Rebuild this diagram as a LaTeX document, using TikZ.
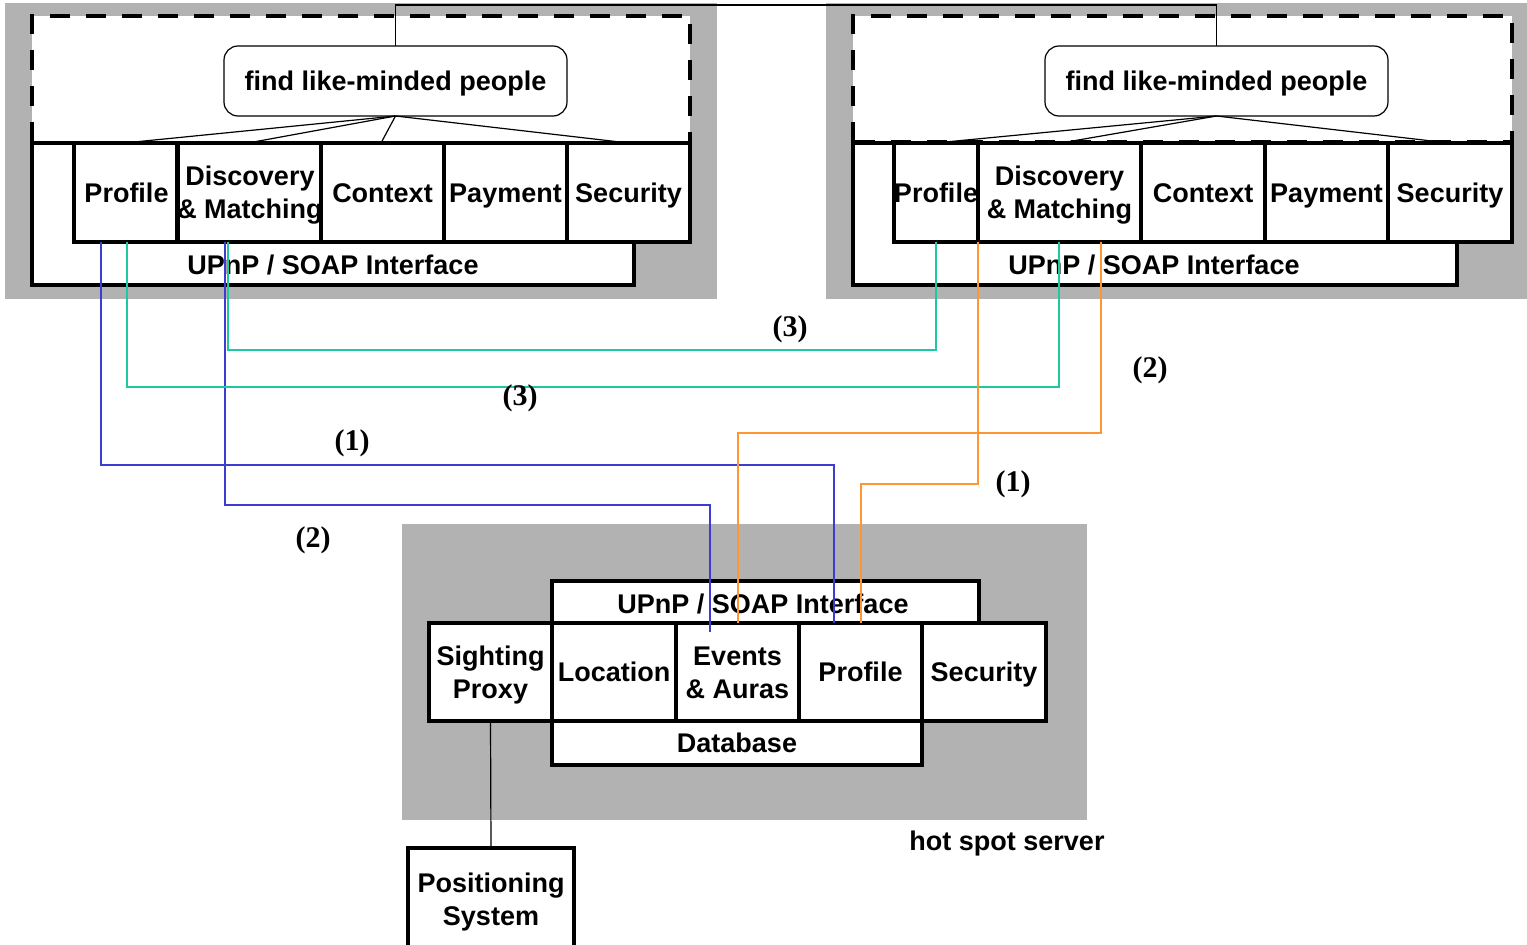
\documentclass[tikz,border=0pt]{standalone}
\usepackage{fontspec}
\setmainfont{Liberation Sans}
\newfontfamily\labfont{Liberation Serif}
\definecolor{panelgray}{RGB}{178,178,178}
\definecolor{cblue}{RGB}{60,60,210}
\definecolor{cgreen}{RGB}{30,200,160}
\definecolor{corange}{RGB}{255,150,50}
\begin{document}
\begin{tikzpicture}[x=1pt,y=-1pt,
  txt/.style={font=\fontsize{27}{33}\selectfont\bfseries, inner sep=0pt, align=center, text height=19.5pt, text depth=0pt},
  twoline/.style={text height=52.5pt},
  modbox/.style={txt, draw, fill=white, line width=4.5pt, outer sep=0pt, minimum height=99pt},
  frame/.style={draw, fill=white, line width=4.5pt, outer sep=0pt, inner sep=0pt},
  dashframe/.style={draw, line width=4.5pt, dash pattern=on 20pt off 16pt, outer sep=0pt, inner sep=0pt},
  goalbox/.style={txt, draw, fill=white, line width=1.2pt, rounded corners=14pt, minimum width=343pt, minimum height=70pt, outer sep=0pt},
  thin/.style={line width=1.2pt},
  conn/.style={line width=1.6pt},
  lab/.style={font=\fontsize{30}{30}\selectfont\labfont\bfseries, inner sep=0pt}
]
\useasboundingbox (0,0) rectangle (1527,945);

% gray panels
\fill[panelgray] (5,3) rectangle (717,299);
\fill[panelgray] (826,3) rectangle (1527,299);
\fill[panelgray] (402,524) rectangle (1087,820);

% ---------- left client ----------
\fill[white] (32,16) rectangle (690,142);
\draw[dashframe] (32,142) -- (32,16) -- (690,16) -- (690,142);
\node[goalbox] (lgoal) at (395.5,81) {find like-minded people};
\node[frame, minimum width=602pt, minimum height=142pt] (lupnp) at (333,214) {};
\node[txt] (lupnptxt) at (333,265) {UPnP / SOAP Interface};
\node[modbox, minimum width=105pt] (lprof) at (126.5,192.5) {Profile};
\node[modbox, twoline, minimum width=142pt] (ldisc) at (250,192.5) {Discovery\\\& Matching};
\node[modbox, minimum width=123pt] (lctx) at (382.5,192.5) {Context};
\node[modbox, minimum width=123pt] (lpay) at (505.5,192.5) {Payment};
\node[modbox, minimum width=123pt] (lsec) at (628.5,192.5) {Security};
\draw[thin] (lgoal.south) -- ([xshift=-2.5]lprof.north);
\draw[thin] (lgoal.south) -- ([xshift=-2]ldisc.north);
\draw[thin] (lgoal.south) -- ([xshift=-1.5]lctx.north);
\draw[thin] (lgoal.south) -- (lsec.north);

% ---------- right client ----------
\fill[white] (853,16) rectangle (1512,142);
\node[goalbox] (rgoal) at (1216.5,81) {find like-minded people};
\node[frame, minimum width=604pt, minimum height=142pt] (rupnp) at (1155,214) {};
\node[txt] (rupnptxt) at (1154,265) {UPnP / SOAP Interface};
\node[modbox, minimum width=84pt] (rprof) at (936,192.5) {Profile};
\node[modbox, twoline, minimum width=163pt] (rdisc) at (1059.5,192.5) {Discovery\\\& Matching};
\node[modbox, minimum width=124pt] (rctx) at (1203,192.5) {Context};
\node[modbox, minimum width=123pt] (rpay) at (1326.5,192.5) {Payment};
\node[modbox, minimum width=124pt] (rsec) at (1450,192.5) {Security};
\draw[dashframe] (853,142) -- (853,16) -- (1512,16) -- (1512,142) -- cycle;
\draw[thin] (rgoal.south) -- ([xshift=-1]rprof.north);
\draw[thin] (rgoal.south) -- ([xshift=1.5]rdisc.north);
\draw[thin] (rgoal.south) -- ([xshift=-1]rsec.north);

% link between the two goals
\draw[thin] (lgoal.north) -- ++(0,-41) -| (rgoal.north);

% ---------- hot spot server ----------
\node[frame, minimum width=427pt, minimum height=42pt] (bupnp) at (765.5,602) {};
\node[txt] (bupnptxt) at (763,604) {UPnP / SOAP Interface};
\node[modbox, minimum width=370pt, minimum height=44pt] (db) at (737,743) {Database};
\node[modbox, twoline, minimum width=123pt, minimum height=98pt] (sp) at (490.5,672) {Sighting\\Proxy};
\node[modbox, minimum width=124pt, minimum height=98pt] (loc) at (614,672) {Location};
\node[modbox, twoline, minimum width=123pt, minimum height=98pt] (ev) at (737.5,672) {Events\\\& Auras};
\node[modbox, minimum width=123pt, minimum height=98pt] (bprof) at (860.5,672) {Profile};
\node[modbox, minimum width=124pt, minimum height=98pt] (bsec) at (984,672) {Security};
\node[txt] (hss) at (1007,841) {hot spot server};
\node[modbox, twoline, minimum width=166pt, minimum height=102pt] (pos) at (491,899) {Positioning\\System};
\draw[thin] (sp.south) -- (pos.north);

% ---------- connectors ----------
\draw[conn, cblue] ([xshift=-25.5]lprof.south) -- ++(0,223) -| ([xshift=-26.5]bprof.north);
\draw[conn, cblue] ([xshift=-25]ldisc.south) -- ++(0,263) -| ([xshift=-27.5,yshift=-9]ev.north);
\draw[conn, cgreen] ([xshift=0.5]lprof.south) -- ++(0,145) -| ([xshift=-0.5]rdisc.south);
\draw[conn, cgreen] ([xshift=-22]ldisc.south) -- ++(0,108) -| (rprof.south);
\draw[conn, corange] (rdisc.south west) -- ++(0,242) -| ([xshift=0.5]bprof.north);
\draw[conn, corange] ([xshift=41.5]rdisc.south) -- ++(0,191) -| ([xshift=0.5]ev.north);

% labels
\node[lab] (l3a) at (790,329) {(3)};
\node[lab] (l3b) at (520,398) {(3)};
\node[lab] (l1a) at (352,443) {(1)};
\node[lab] (l2a) at (313,540) {(2)};
\node[lab] (l2b) at (1150,370) {(2)};
\node[lab] (l1b) at (1013,484) {(1)};
\end{tikzpicture}
\end{document}
